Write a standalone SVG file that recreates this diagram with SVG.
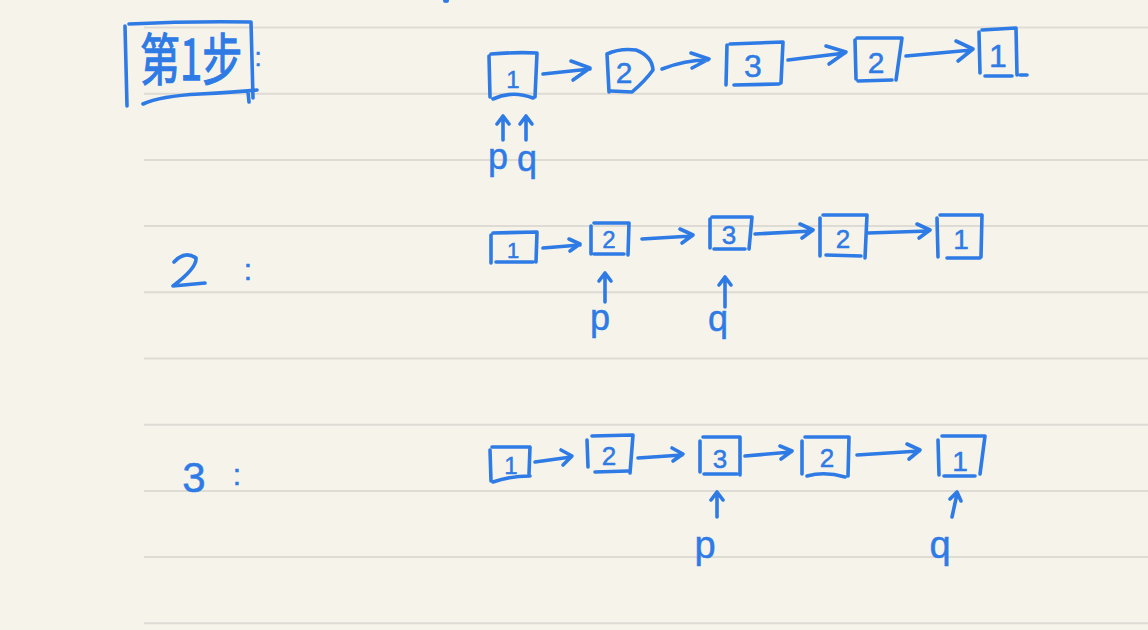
<svg xmlns="http://www.w3.org/2000/svg" width="1148" height="630" viewBox="0 0 1148 630">
<style>
.ink{fill:none;stroke:#2f7be6;stroke-width:3.6;stroke-linecap:round;stroke-linejoin:round}
.rule{stroke:#dddbd3;stroke-width:2}
.t{fill:#2f7be6;stroke:#2f7be6;stroke-width:0.5;font-family:"Liberation Sans","DejaVu Sans",sans-serif;text-anchor:middle}
.cjk{fill:#2f7be6;stroke:#2f7be6;stroke-width:0.9;font-family:"Noto Sans CJK SC","Noto Sans CJK JP",sans-serif}
</style>
<rect width="1148" height="630" fill="#f6f4ea"/>
<g id="paper-lines">
<line class="rule" x1="144" y1="27.5" x2="1148" y2="27.5"/>
<line class="rule" x1="144" y1="93.7" x2="1148" y2="93.7"/>
<line class="rule" x1="144" y1="159.9" x2="1148" y2="159.9"/>
<line class="rule" x1="144" y1="226.1" x2="1148" y2="226.1"/>
<line class="rule" x1="144" y1="292.3" x2="1148" y2="292.3"/>
<line class="rule" x1="144" y1="358.5" x2="1148" y2="358.5"/>
<line class="rule" x1="144" y1="424.7" x2="1148" y2="424.7"/>
<line class="rule" x1="144" y1="490.9" x2="1148" y2="490.9"/>
<line class="rule" x1="144" y1="557.1" x2="1148" y2="557.1"/>
<line class="rule" x1="144" y1="623.3" x2="1148" y2="623.3"/>
</g>
<ellipse cx="446" cy="0.5" rx="3" ry="2.5" fill="#2f7be6"/>

<g id="title-step1">
<path class="ink" d="M125 26 L127 106 M129 24 Q190 21 251 22 L253 98 M143 104 Q160 96 200 94 Q235 92 257 90 M248 92 L249 102"/>
<text class="cjk" transform="translate(140,80) scale(1,1.4)" x="0" y="0" font-size="40">第1步</text>
<text class="t" x="258" y="66" font-size="26">:</text>
</g>

<g id="row1">
<g id="r1-n1"><path class="ink" d="M489 56 L490 97 M491 54 Q515 52 537 53 L535 97 M493 99 Q512 90 533 98"/><text class="t" x="513" y="88" font-size="24">1</text></g>
<g id="r1-n2"><path class="ink" d="M609 92 L607 54 Q620 48 636 50 Q652 56 653 70 Q645 81 632 92 L611 91"/><text class="t" x="624" y="83" font-size="30">2</text></g>
<g id="r1-n3"><path class="ink" d="M727 45 L726 85 M730 44 L783 42 L781 83 M734 85 L779 84"/><text class="t" x="753" y="77" font-size="32">3</text></g>
<g id="r1-n4"><path class="ink" d="M855 40 L856 79 M857 38 L902 38 L896 80 M858 81 L892 80"/><text class="t" x="876" y="73" font-size="30">2</text></g>
<g id="r1-n5"><path class="ink" d="M979 32 L980 73 M982 30 L1016 28 L1017 75 M985 76 L1012 76 M1020 75 L1027 75"/><text class="t" x="998" y="67" font-size="32">1</text></g>
<g id="r1-p"><path class="ink" d="M503 140 L503 117 M497 124 L503 116 L509 124"/><text class="t" x="498" y="169" font-size="36">p</text></g>
<g id="r1-q"><path class="ink" d="M526 140 L526 117 M520 124 L526 116 L532 124"/><text class="t" x="527" y="171" font-size="36">q</text></g>
</g>

<g id="row2">
<path class="ink" d="M174 262 Q185 250 196 258 Q197 268 173 286 L205 283"/>
<text class="t" x="248" y="280" font-size="30">:</text>
<g id="r2-n1"><path class="ink" d="M491 235 L491 263 M493 233 L537 232 L536 262 M496 262 L533 262"/><text class="t" x="513" y="258" font-size="22">1</text></g>
<g id="r2-n2"><path class="ink" d="M591 226 L591 254 M594 223 L629 223 L628 255 M594 254 L624 254"/><text class="t" x="609" y="248" font-size="24">2</text></g>
<g id="r2-n3"><path class="ink" d="M710 219 L710 248 M712 217 L752 217 L749 249 M714 249 L745 249"/><text class="t" x="729" y="244" font-size="26">3</text></g>
<g id="r2-n4"><path class="ink" d="M820 218 L820 256 M823 215 L867 215 L865 258 M826 255 L861 256"/><text class="t" x="843" y="248" font-size="26">2</text></g>
<g id="r2-n5"><path class="ink" d="M937 218 L938 257 M940 215 L982 215 L981 257 M947 258 L980 258"/><text class="t" x="961" y="249" font-size="28">1</text></g>
<g id="r2-p"><path class="ink" d="M605 302 L605 274 M599 281 L605 273 L611 281"/><text class="t" x="600" y="330" font-size="36">p</text></g>
<g id="r2-q"><path class="ink" d="M725 307 L725 278 M719 285 L725 277 L731 285"/><text class="t" x="718" y="331" font-size="36">q</text></g>
</g>

<g id="row3">
<text class="t" x="194" y="492" font-size="42">3</text>
<text class="t" x="237" y="485" font-size="30">:</text>
<g id="r3-n1"><path class="ink" d="M490 450 L491 481 M492 447 L530 447 L529 474 M493 482 Q510 476 530 476"/><text class="t" x="511" y="474" font-size="24">1</text></g>
<g id="r3-n2"><path class="ink" d="M587 440 L588 467 M592 436 L633 435 L630 473 M595 472 L628 471"/><text class="t" x="609" y="465" font-size="26">2</text></g>
<g id="r3-n3"><path class="ink" d="M700 441 L700 472 M703 437 L740 437 L740 475 M704 474 L737 474"/><text class="t" x="720" y="468" font-size="26">3</text></g>
<g id="r3-n4"><path class="ink" d="M802 441 L802 474 M805 437 L849 437 L848 476 M807 476 Q825 471 845 477"/><text class="t" x="827" y="467" font-size="26">2</text></g>
<g id="r3-n5"><path class="ink" d="M938 440 L939 475 M942 436 L985 436 L980 474 M944 476 L975 476"/><text class="t" x="960" y="471" font-size="28">1</text></g>
<g id="r3-p"><path class="ink" d="M717 517 L717 493 M711 500 L717 492 L723 500"/><text class="t" x="705" y="558" font-size="38">p</text></g>
<g id="r3-q"><path class="ink" d="M952 517 L957 494 M950 499 L957 492 L961 501"/><text class="t" x="940" y="558" font-size="38">q</text></g>
</g>

<g id="connectors">
<path class="ink" d="M543 74 L590 69 M571 61 L590 68 L573 80"/>
<path class="ink" d="M662 69 Q685 60 708 60 M691 53 L709 59 L692 68"/>
<path class="ink" d="M788 60 L845 53 M826 46 L846 52 L829 64"/>
<path class="ink" d="M906 56 L972 50 M956 41 L973 49 L958 61"/>

<path class="ink" d="M543 248 L580 245 M569 239 L580 244 L570 251"/>
<path class="ink" d="M642 239 L692 236 M680 229 L693 235 L682 243"/>
<path class="ink" d="M755 234 L812 231 M800 224 L813 230 L802 238"/>
<path class="ink" d="M868 233 L929 231 M917 224 L930 230 L919 238"/>

<path class="ink" d="M535 462 L571 457 M561 450 L572 456 L563 465"/>
<path class="ink" d="M638 458 L682 455 M672 448 L683 454 L673 461"/>
<path class="ink" d="M745 456 L791 452 M780 446 L792 451 L781 459"/>
<path class="ink" d="M857 455 L919 451 M907 444 L920 450 L909 459"/>
</g>
</svg>
